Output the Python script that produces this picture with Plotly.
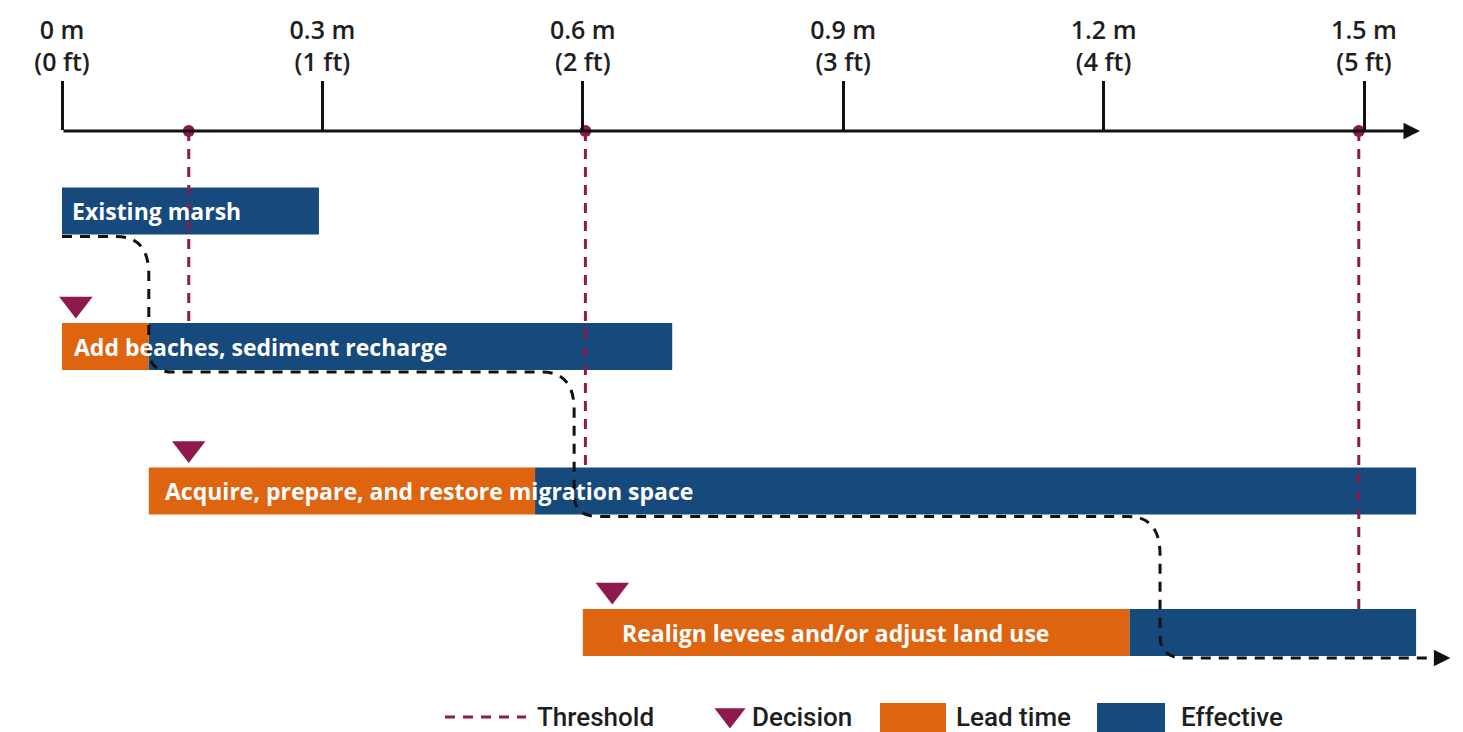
import plotly.graph_objects as go

# ---------------- data ----------------
row_labels = ["Existing marsh", "Add beaches, sediment recharge",
              "Acquire, prepare, and restore migration space",
              "Realign levees and/or adjust land use"]
lead_start = [None, 0.0, 0.1, 0.6]
lead_end = [None, 0.1, 0.545, 1.23]
eff_start = [0.0, 0.1, 0.545, 1.23]
eff_end = [0.296, 0.703, 1.56, 1.56]
threshold_x = [0.146, 0.603, 1.494]
threshold_row = [1, 2, 3]
decision_x = [0.016, 0.146, 0.634]
decision_row = [1, 2, 3]
pathway_switch = [0.1, 0.59, 1.265]
pathway_end = 1.588
tick_m = [0, 0.3, 0.6, 0.9, 1.2, 1.5]
tick_labels = ["0 m<br>(0 ft)", "0.3 m<br>(1 ft)", "0.6 m<br>(2 ft)",
               "0.9 m<br>(3 ft)", "1.2 m<br>(4 ft)", "1.5 m<br>(5 ft)"]
legend_labels = ["Threshold", "Decision", "Lead time", "Effective"]

# ---------------- style / layout ----------------
W, H = 1463, 732
PX0, PXM = 62, 868          # pixel of 0 m, pixels per metre
AX_Y = 131                  # axis line pixel row
row_center = [211, 346.5, 491, 632.5]
bar_h = 47
label_pad = [8, 10, 14, 37]

BLUE = "#16497c"
ORANGE = "#de6410"
MAROON = "#8e1a4d"
INK = "#1e1e1e"
FONT = "Open Sans"
LFONT = "Roboto"

xr = [-PX0 / PXM, (W - PX0) / PXM]

fig = go.Figure()

# threshold lines (under bars)
tx, ty = [], []
for t, r in zip(threshold_x, threshold_row):
    tx += [t, t, None]
    ty += [AX_Y, row_center[r] - bar_h / 2, None]
fig.add_trace(go.Scatter(x=tx, y=ty, mode="lines",
                         line=dict(color=MAROON, width=3, dash="10px,8px"),
                         hoverinfo="skip", showlegend=False))

# bars
ly, lb, lw = [], [], []
for i in range(len(row_labels)):
    if lead_start[i] is not None:
        ly.append(row_center[i]); lb.append(lead_start[i]); lw.append(lead_end[i] - lead_start[i])
fig.add_trace(go.Bar(y=ly, x=lw, base=lb, orientation="h", width=bar_h,
                     marker=dict(color=ORANGE, line=dict(width=0)), showlegend=False))
fig.add_trace(go.Bar(y=row_center, x=[e - s for s, e in zip(eff_start, eff_end)],
                     base=eff_start, orientation="h", width=bar_h,
                     marker=dict(color=BLUE, line=dict(width=0)), showlegend=False))

# bar labels
for i, lab in enumerate(row_labels):
    start = lead_start[i] if lead_start[i] is not None else eff_start[i]
    fig.add_annotation(x=start + label_pad[i] / PXM, y=row_center[i], text=lab,
                       xanchor="left", yanchor="middle", showarrow=False,
                       font=dict(family=FONT, size=23, color="white", weight="bold"))

# decisions
fig.add_trace(go.Scatter(x=decision_x, y=[row_center[r] - bar_h / 2 - 19 for r in decision_row],
                         mode="markers", marker=dict(symbol="triangle-down", size=29, color=MAROON),
                         hoverinfo="skip", showlegend=False, cliponaxis=False))

# threshold dots on axis
fig.add_trace(go.Scatter(x=threshold_x, y=[AX_Y] * len(threshold_x), mode="markers",
                         marker=dict(symbol="circle", size=12, color=MAROON),
                         hoverinfo="skip", showlegend=False, cliponaxis=False))

# pathway (dashed black)
rx1, ry1 = 32 / PXM, 38
rx2, ry2 = 24 / PXM, 22
bottoms = [c + bar_h / 2 + 2 for c in row_center]
p = f"M {eff_start[0]},{bottoms[0]}"
for i, s in enumerate(pathway_switch):
    y0 = bottoms[i]
    y1 = bottoms[i + 1]
    p += f" L {s - rx1},{y0} Q {s},{y0} {s},{y0 + ry1}"
    p += f" L {s},{y1 - ry2} Q {s},{y1} {s + rx2},{y1}"
p += f" L {pathway_end},{bottoms[-1]}"
fig.add_shape(type="path", path=p, xref="x", yref="y",
              line=dict(color="#111111", width=3, dash="10px,8px"), layer="above")
fig.add_annotation(x=pathway_end + 10 / PXM, y=bottoms[-1], ax=pathway_end - 4 / PXM, ay=bottoms[-1],
                   axref="x", ayref="y", xref="x", yref="y", text="", showarrow=True,
                   arrowhead=2, arrowsize=1.1, arrowwidth=3, arrowcolor="#111111")

# main axis line with arrow
fig.add_annotation(x=(1420 - PX0) / PXM, y=AX_Y, ax=0, ay=AX_Y, axref="x", ayref="y",
                   xref="x", yref="y", text="", showarrow=True,
                   arrowhead=2, arrowsize=1.1, arrowwidth=3, arrowcolor="#111111")

# legend (manual)
LY = 717
def px(v):
    return v / W
lfont = dict(family=LFONT, size=26, color=INK, weight=500)
fig.add_shape(type="line", xref="paper", yref="y", x0=px(445), x1=px(526), y0=LY, y1=LY,
              line=dict(color=MAROON, width=3, dash="10px,8px"))
fig.add_annotation(xref="paper", yref="y", x=px(535), y=LY, text=legend_labels[0], xanchor="left",
                   yanchor="middle", showarrow=False, font=lfont)
fig.add_trace(go.Scatter(x=[(730 - PX0) / PXM], y=[LY - 2], mode="markers",
                         marker=dict(symbol="triangle-down", size=27, color=MAROON),
                         hoverinfo="skip", showlegend=False, cliponaxis=False))
fig.add_annotation(xref="paper", yref="y", x=px(750), y=LY, text=legend_labels[1], xanchor="left",
                   yanchor="middle", showarrow=False, font=lfont)
fig.add_shape(type="rect", xref="paper", yref="y", x0=px(880), x1=px(946), y0=703, y1=732,
              fillcolor=ORANGE, line=dict(width=0))
fig.add_annotation(xref="paper", yref="y", x=px(954), y=LY, text=legend_labels[2], xanchor="left",
                   yanchor="middle", showarrow=False, font=lfont)
fig.add_shape(type="rect", xref="paper", yref="y", x0=px(1097), x1=px(1165), y0=703, y1=732,
              fillcolor=BLUE, line=dict(width=0))
fig.add_annotation(xref="paper", yref="y", x=px(1179), y=LY, text=legend_labels[3], xanchor="left",
                   yanchor="middle", showarrow=False, font=lfont)

fig.update_layout(
    width=W, height=H, margin=dict(l=0, r=0, t=AX_Y, b=0),
    paper_bgcolor="white", plot_bgcolor="white", barmode="overlay", showlegend=False,
    xaxis=dict(range=xr, side="top", tickvals=tick_m, ticktext=tick_labels,
               ticks="outside", ticklen=49, tickwidth=3, tickcolor="#111111",
               showgrid=False, zeroline=False, showline=False, fixedrange=True,
               tickfont=dict(family=FONT, size=25, color=INK, weight=600)),
    yaxis=dict(range=[H, AX_Y], visible=False, fixedrange=True),
)

fig.write_html("out.html", config={"displayModeBar": False},
               post_script="document.body.style.margin='0px';")
